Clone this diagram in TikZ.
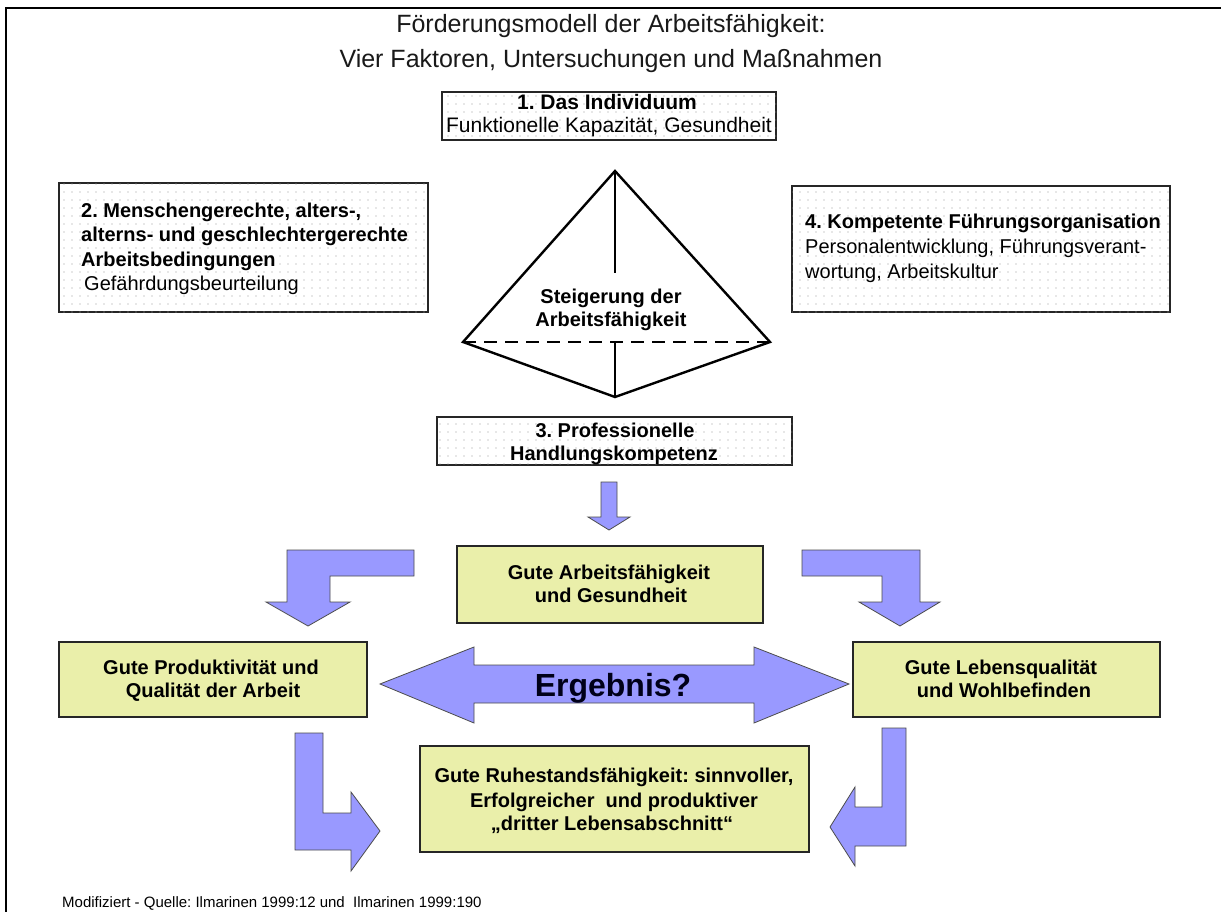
\documentclass[tikz,border=0pt]{standalone}
\usepackage{fontspec}
\setmainfont{Liberation Sans}
\usetikzlibrary{patterns}
\pgfdeclarepatternformonly{sparsedots}{\pgfqpoint{-1pt}{-1pt}}{\pgfqpoint{1pt}{1pt}}{\pgfqpoint{8pt}{8pt}}{\pgfpathcircle{\pgfqpoint{0pt}{0pt}}{0.7pt}\pgfusepath{fill}}
\definecolor{arrowblue}{RGB}{153,153,255}
\definecolor{boxyellow}{RGB}{234,239,170}
\frenchspacing
\begin{document}
\frenchspacing
\begin{tikzpicture}[x=1pt,y=-1pt,
  dotbox/.style={draw=black!85, line width=1.6pt, fill=white, postaction={pattern=sparsedots, pattern color=black!40}, inner sep=0pt},
  ybox/.style={draw=black!85, line width=1.5pt, fill=boxyellow, inner sep=0pt},
  barrow/.style={fill=arrowblue, draw=black!70, line width=0.8pt, line join=miter},
  ttl/.style={font=\fontsize{25}{30}\selectfont, anchor=base, text=black!90},
  tb/.style={font=\fontsize{20}{24}\selectfont\bfseries, inner sep=0pt},
  tr/.style={font=\fontsize{20}{24}\selectfont, inner sep=0pt},
  pyr/.style={line width=2.4pt, line join=miter},
]
\useasboundingbox (0,0) rectangle (1221,912);
\fill[white] (0,0) rectangle (1221,912);
% frame
\coordinate (fl) at (5,8);
\coordinate (fr) at (1221,8);
\coordinate (fb) at (6,912);
\draw[line width=2.8pt] (fr) -- (fl -| fb) -- (fb);

% title
\node[ttl] (t1) at (611,33) {Förderungsmodell der Arbeitsfähigkeit:};
\node[ttl] (t2) at (611,68) {Vier Faktoren, Untersuchungen und Maßnahmen};

% factor boxes
\node[dotbox, minimum width=334pt, minimum height=48pt] (b1) at (609,116) {};
\node[tb, font=\fontsize{21}{24}\selectfont\bfseries, anchor=base] (b1a) at (607,110) {1. Das Individuum};
\node[tr, font=\fontsize{21}{24}\selectfont, anchor=base] (b1b) at (609,133) {Funktionelle Kapazität, Gesundheit};

\node[dotbox, minimum width=369pt, minimum height=129pt] (b2) at (243.5,247.5) {};
\node[tb, anchor=base west] (b2a) at (81,218) {2. Menschengerechte, alters-,};
\node[tb, anchor=base west] (b2b) at (81,242) {alterns- und geschlechtergerechte};
\node[tb, anchor=base west] (b2c) at (81,266) {Arbeitsbedingungen};
\node[tr, anchor=base west] (b2d) at (84,290) {Gefährdungsbeurteilung};

\node[dotbox, minimum width=378pt, minimum height=126pt] (b4) at (981,249) {};
\node[tb, anchor=base west] (b4a) at (805,229) {4. Kompetente Führungsorganisation};
\node[tr, anchor=base west] (b4b) at (805,254) {Personalentwicklung, Führungsverant-};
\node[tr, anchor=base west] (b4c) at (805,279) {wortung, Arbeitskultur};

\node[dotbox, minimum width=355pt, minimum height=48pt] (b3) at (614.5,441) {};
\node[tb, anchor=base] (b3a) at (615,437) {3. Professionelle};
\node[tb, anchor=base] (b3b) at (614,460) {Handlungskompetenz};

% pyramid
\coordinate (apex) at (615,171);
\coordinate (lc) at (463,342);
\coordinate (rc) at (770,342);
\coordinate (bot) at (615,397);
\coordinate (vt) at (615,273);
\coordinate (vm) at (615,342);
\draw[pyr] (lc) -- (apex) -- (rc) -- (bot) -- cycle;
\draw[line width=2.4pt, dash pattern=on 13pt off 8pt] (lc) -- (rc);
\draw[line width=1.4pt] (apex) -- (vt);
\draw[line width=1.4pt] (vm) -- (bot);
\node[tb, anchor=base] (p1) at (611,303) {Steigerung der};
\node[tb, anchor=base] (p2) at (611,326) {Arbeitsfähigkeit};

% small down arrow
\draw[barrow] (601,482) -- (617,482) -- (617,517) -- (630,517) -- (609,530) -- (588,517) -- (601,517) -- cycle;

% result boxes
\node[ybox, minimum width=306pt, minimum height=77pt] (b5) at (610,584.5) {};
\node[tb, anchor=base] (b5a) at (609,579) {Gute Arbeitsfähigkeit};
\node[tb, anchor=base] (b5b) at (611,602) {und Gesundheit};

\node[ybox, minimum width=308pt, minimum height=75pt] (b6) at (213,679.5) {};
\node[tb, anchor=base] (b6a) at (211,674) {Gute Produktivität und};
\node[tb, anchor=base] (b6b) at (213,697) {Qualität der Arbeit};

\node[ybox, minimum width=307pt, minimum height=75pt] (b7) at (1006.5,679.5) {};
\node[tb, anchor=base] (b7a) at (1001,674) {Gute Lebensqualität};
\node[tb, anchor=base] (b7b) at (1004,697) {und Wohlbefinden};

\node[ybox, minimum width=389pt, minimum height=106pt] (b8) at (614.5,799) {};
\node[tb, anchor=base] (b8a) at (614,782) {Gute Ruhestandsfähigkeit: sinnvoller,};
\node[tb, anchor=base] (b8b) at (614,807) {Erfolgreicher\ \ und produktiver};
\node[tb, anchor=base] (b8c) at (612,830) {„dritter Lebensabschnitt“};

% bent arrows top
\draw[barrow] (414,550) -- (287,550) -- (287,602) -- (266,602) -- (308,626) -- (350,602) -- (330,602) -- (330,576) -- (414,576) -- cycle;
\draw[barrow] (802,550) -- (920,550) -- (920,602) -- (940,602) -- (900,626) -- (859,602) -- (882,602) -- (882,576) -- (802,576) -- cycle;

% double arrow
\draw[barrow] (380,684) -- (474,647) -- (474,665) -- (754,665) -- (754,647) -- (849,684) -- (754,723) -- (754,703) -- (474,703) -- (474,723) -- cycle;
\node[font=\fontsize{32}{36}\selectfont\bfseries, anchor=base, inner sep=0pt, text=black!90!blue] (erg) at (613,696) {Ergebnis?};

% bent arrows bottom
\draw[barrow] (295,733) -- (323,733) -- (323,813) -- (351,813) -- (351,792) -- (380,831) -- (351,871) -- (351,850) -- (295,850) -- cycle;
\draw[barrow] (906,728) -- (882,728) -- (882,807) -- (855,807) -- (855,787) -- (830,827) -- (855,866) -- (855,846) -- (906,846) -- cycle;

% footer
\node[font=\fontsize{15}{18}\selectfont, anchor=base west, inner sep=0pt] (foot) at (62,907) {Modifiziert - Quelle: Ilmarinen 1999:12 und\ \ Ilmarinen 1999:190};
\end{tikzpicture}
\end{document}
